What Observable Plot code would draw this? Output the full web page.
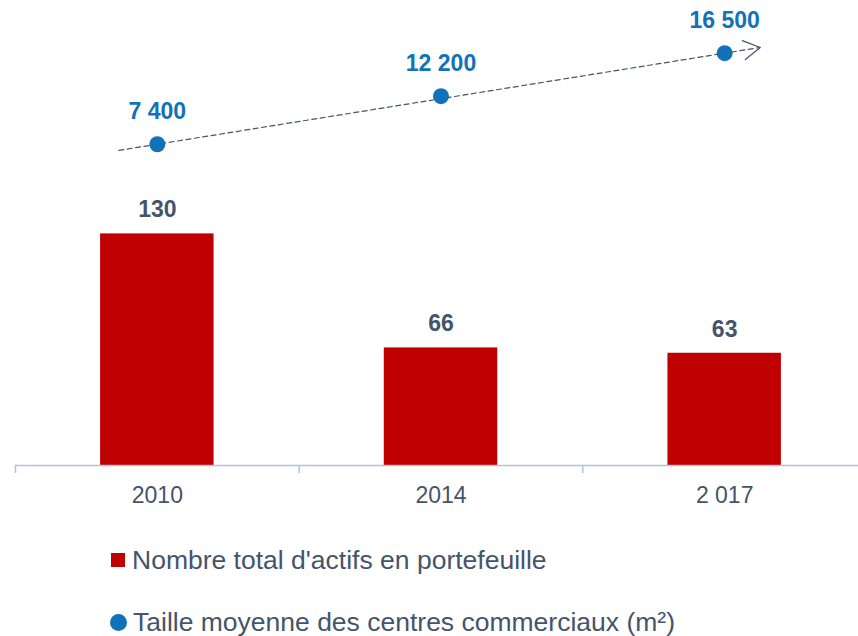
<!DOCTYPE html>
<html>
<head>
<meta charset="utf-8">
<script src="https://cdn.jsdelivr.net/npm/d3@7"></script>
<script src="https://cdn.jsdelivr.net/npm/@observablehq/plot@0.6"></script>
<style>
  body { margin: 0; background: #fff; font-family: "Liberation Sans", Arial, sans-serif; }
  #chart svg { display: block; }
  #legend { position: relative; height: 116px; }
  .item { position: absolute; display: flex; align-items: center; font-size: 26.5px; line-height: 30px; color: #44546a; white-space: nowrap; }
  .sq { width: 14px; height: 14px; background: #c00000; margin-right: 7px; }
  .ci { width: 17px; height: 17px; border-radius: 50%; background: #1172b9; margin-right: 6px; }
</style>
</head>
<body>
<div id="chart"></div>
<div id="legend"></div>
<script>
// ---- data ----
const years = ["2010", "2014", "2 017"];
const actifs = [130, 66, 63];                  // Nombre total d'actifs en portefeuille
const taille = [7400, 12200, 16500];           // Taille moyenne des centres commerciaux (m²)
const tailleLabels = ["7 400", "12 200", "16 500"];
const seriesNames = ["Nombre total d'actifs en portefeuille", "Taille moyenne des centres commerciaux (m²)"];

const red = "#c00000", blue = "#1172b9", gray = "#44546a", axisBlue = "#aec3df";

// secondary (m²) axis mapped onto the primary y scale
const toPrimary = d3.scaleLinear().domain([-24700, 21760]).range([0, 261]);

const rows = years.map((y, i) => ({i, year: y, actifs: actifs[i], taille: taille[i], tl: tailleLabels[i]}));
const first = rows[0], last = rows[rows.length - 1];

const chart = Plot.plot({
  width: 858,
  height: 520,
  marginTop: 0,
  marginLeft: 15,
  marginRight: -8,
  marginBottom: 55,
  x: {domain: [0, years.length], axis: null},
  y: {domain: [0, 261], axis: null},
  style: {fontFamily: "Liberation Sans, Arial, sans-serif", background: "#fff"},
  marks: [
    Plot.rectY(rows, {x1: d => d.i + 0.3, x2: d => d.i + 0.7, y1: 0, y2: "actifs", fill: red}),
    Plot.ruleY([0], {stroke: axisBlue, strokeWidth: 1.5}),
    Plot.axisX(d3.range(years.length + 1), {tickSize: 8, stroke: axisBlue, strokeWidth: 1.5, tickFormat: () => "", strokeOpacity: 1}),
    Plot.axisX(years.map((_, i) => i + 0.5), {tickSize: 0, tickPadding: 21, tickFormat: t => years[Math.floor(t)], fontSize: 23, fill: gray}),
    Plot.text(rows, {x: d => d.i + 0.5, y: "actifs", text: d => String(d.actifs), dy: -24, fontSize: 23, fontWeight: "bold", fill: gray}),
    Plot.arrow([{}], {
      x1: () => first.i + 0.5, y1: () => toPrimary(first.taille),
      x2: () => last.i + 0.5, y2: () => toPrimary(last.taille),
      stroke: gray, strokeWidth: 1.2,
      insetStart: -39, insetEnd: -36, headLength: 24, headAngle: 60
    }),
    Plot.dot(rows, {x: d => d.i + 0.5, y: d => toPrimary(d.taille), r: 8, fill: blue}),
    Plot.text(rows, {x: d => d.i + 0.5, y: d => toPrimary(d.taille), text: "tl", dy: -33, fontSize: 23, fontWeight: "bold", fill: blue})
  ]
});

// dashed shaft, solid open arrowhead
chart.querySelectorAll('g[aria-label="arrow"] path').forEach(p => {
  const d = p.getAttribute("d");
  const k = d.indexOf("M", 1);
  if (k > 0) {
    const head = p.cloneNode();
    head.setAttribute("d", d.slice(k));
    p.setAttribute("d", d.slice(0, k));
    p.parentNode.appendChild(head);
  }
  p.setAttribute("stroke-dasharray", "5,3.5");
});
document.getElementById("chart").appendChild(chart);

const legend = document.getElementById("legend");
legend.innerHTML = `
  <div class="item" style="left:111px;top:25px"><span class="sq"></span>${seriesNames[0]}</div>
  <div class="item" style="left:110px;top:87px"><span class="ci"></span>${seriesNames[1]}</div>`;
</script>
</body>
</html>
